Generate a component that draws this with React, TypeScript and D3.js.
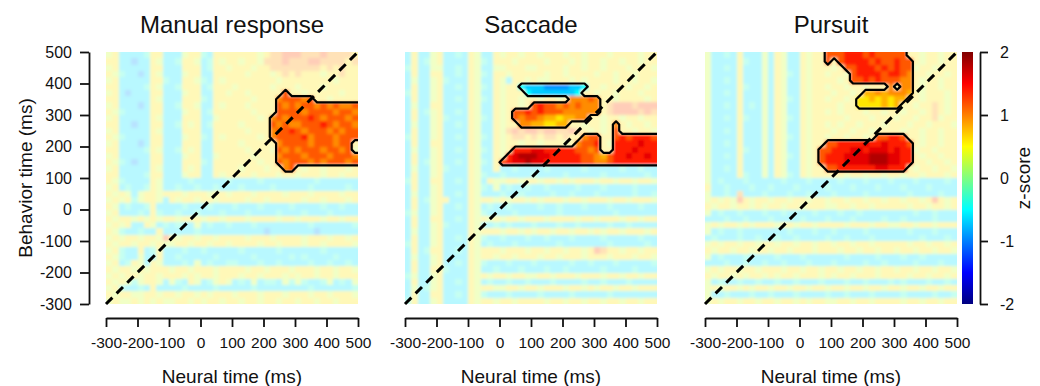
import { useEffect, useRef } from "react";
import * as d3 from "d3";

// axis ticks (ms) and colour bar ticks (z)
const timeTicks = [-300, -200, -100, 0, 100, 200, 300, 400, 500];
const zTicks = [-2, -1, 0, 1, 2];
const panelTitles = ["Manual response", "Saccade", "Pursuit"];

// 20 ms bins, 40 x 40 per panel. rows go from behaviour time 500 (top) down to -300,
// columns from neural time -300 to 500. Each row is written as four groups of ten bins.
// lowercase = not significant (drawn faded), digits / capitals = inside a significant cluster
const bgLevels: Record<string, number> = { a: -0.9, b: -0.6, c: -0.3, d: 0, e: 0.3, f: 0.6, g: 0.9, h: 1.2 };
const sigLevels: Record<string, number> = {
  "3": 0.6, "4": 0.8, "5": 0.95, "6": 1.15, "7": 1.4, "8": 1.6, "9": 1.8,
  P: -0.5, Q: -0.7, R: -0.9,
};

const manualRows = [
  "efbbbbcffb bbeffcbfff ffffefgghh hggghggggf",
  "ffbbabbfeb bcffebcfef feffeggghg gghhggggfg",
  "efbbbbbffb bbfffbcffe fffeffgggg ggggfgfgff",
  "fecbbabfeb bbeffbbfff ffefffefgf gfffeffgff",
  "efbbbbbffc bbffecbfef fffffffeff ffffffefff",
  "ffbbbbcfeb bcfffbcfff efffffefff efffefffff",
  "efbabbbffb bbeffbbffe ffefffff6f fefffffeff",
  "ffbbbbbfeb bbfffcbfff fffefff566 656ffeffff",
  "efbbbabffb bcffebbfef ffeffff656 5665656556",
  "fecbbbbffb bbeffbcfff fffefff666 6566665665",
  "efbbbbbfeb bbfffbbeff ffffef5656 6676566656",
  "ffbbabbffb bcfefbcfff feffff6565 5666765665",
  "efbbbbbfeb bbfffbbfff ffefff5667 6566656566",
  "fecbbbbffb bbeffcbfef ffffef5666 6756665666",
  "efbbbabffb bbfffbbfff fefffff566 665666566f",
  "ffbbbbcfeb bcfefbbfff ffefffe656 566656656e",
  "efbbbbbffb bbeffbbeff fffefff566 6566656665",
  "fecbabbffb bbfffcbfff ffffeff656 6656566656",
  "efbbbbbfeb bbfefbbfff fefffeff56 feffefffef",
  "ffbbbbcffb bbeffbbfef fffefffeff efffeffeff",
  "fecbbbbfeb bbbcbbbbbc bbbbcbbbbb bbbcbbbbbb",
  "efbcbbcfeb bcbbcbbcbb bcbbbbcbbb bbcbbbbbcb",
  "fefebeffef ffefffeffe fffeffffef ffeffffeff",
  "efefceffeb feffeffeff ffeffeffff feffefffef",
  "febcbbcfbb bbcbbbcbbb cbbbcbbbbc bbbbcbbcbb",
  "efbbbcbfcb bcbbcbbbcb bbcbbbbcbb bcbbbcbbbb",
  "feffefefef fefffeffef ffeffffeff efffeffeff",
  "efefbbfebc bcbbebcbbc bbbcbbbbbb bbcbbbbbbc",
  "fecbbcbbfb bbbbcbbbbb bbbbbabbbb bbbabbbbbb",
  "efeffeffeh feffeffeff ffefffefff fefffeffef",
  "feffeffefe effeffeffe ffffeffeff feffeffffe",
  "efcbbfbcfb bbcbbcbbbb bcbbbbbcbb bbbbcbbbbb",
  "fecbbebbfb bcbbbbbcbb bbbcbbbbbc bcbbbbcbbb",
  "efbcfebfeb bbcbebcbbc cbbbcbbcbb bbcbbcbbcb",
  "feffefefff effefffeff ffeffefffe fffeffeffe",
  "efeffeffef ffefeffeff feffefffef effeffefff",
  "fefeceffeb ecbfebcefe bcbebccbec ecbbcebcbe",
  "efcbbcbfbb bbcbbbbcbb bbbcbbbbbb bbcbbbbbbc",
  "feffeeffef feffefefff efffefffef ffeffefffe",
  "efeefefefe effefeffef feffeffeff effeffefff",
];

const saccadeRows = [
  "bfbbefbbcb febbfeffef fefffeffef ffeffffeff",
  "bfbcefbbbb fecbfffeff ffefffefef feffeffeff",
  "cfbbeebbcb febbeefffe effffeffef fefffefffe",
  "bfbbffbbcb fecbffefff ffeffeffff effeffefff",
  "bebbefcbbb febbfebffe feefffefef fffeffeffe",
  "bfbbefbbcb fecbfeffPQ QQRRRRQQPf fefffeffef",
  "cfbbefbbbb febbfefffP QQQQQQQPff effefffeff",
  "bfbbefbbcb fecbfeffef feffef5556 5ffeffffef",
  "bebbffbbbb febbfeffef 6766565655 5fghhhghhh",
  "bfbcefbbcb febbfef667 6766655555 5fghhhhghg",
  "bfbbefcbbb fecbfef656 654434455f feffeffeff",
  "bebbefbbcb febbfeff55 443344ffef fef5feffef",
  "bfbbefbbbb febbfeghgh hghhgghgfe fef6ffeffe",
  "cfbbefbbcb fecbfefggf gfggfgff56 6ff6767776",
  "bfbbffbbbb febbfeffef fefffef566 7fe7777877",
  "bebbefbbcb fecbfef777 8877777665 6ff7778777",
  "bfbbefbbbb febbfe7899 9887777766 5467787787",
  "bfbcefbbcb fecbf67889 8877777766 5567777777",
  "bebbefcbbb febbfbbcbb bbcbbbbbcb bbbbcbbcbb",
  "bfbbefbbbb fecbbcbbbb cbbbbcbbbb bcbbbbbbcb",
  "cfbbffbbcb febfeeffef feffefefff effeffeffe",
  "bfbbefbbbb fecbebcbbc bbcbbbbcbb bcbbbbcbbb",
  "bebbefbbcb febbbcbbcb bbbcbbcbbb cbbbbbcbbc",
  "bfbceffbbb feffefeffe fefffeffef ffeffefffe",
  "bfbbefbbcb febcbbcbbb bcbbcbbbcb bbcbbbbcbb",
  "cebbefbbbb fecbbbbcbb bbbbcbbbbb bbbcbbbbbb",
  "bfbbffbbcb fefefeffef ffeffffeff efffeffeff",
  "bfbbefcbbb febbcbcbbb cbbbcbbcbb bbcbbcbbbb",
  "bebbefbbbb fefffeffef effeffeffe feffefffef",
  "bfbbefbbcb fecbbcbbbc bbcbbbcbbb bcbbbbbcbb",
  "cfbbefbbbb febcbbbcbb bbbbcbbbbb bbcbbbbbcb",
  "bfbcffbbcb fefffefffe ffeffeffef hgffeffeff",
  "bebbefbbbb feffeffeff feffefffef ffefffeffe",
  "bfbbefbbcb fecbbbcbbb cbbbbbcbbc bbbcbbbbbc",
  "bfbbffcbbb febbcbbbcb bbcbbcbbbb bcbbbbcbbb",
  "cebbefbbbb fefeffeffe effefffeff feffeffeff",
  "bfbbefbbcb febcbbcbbc bbbcbbbbcb bcbbbcbbbb",
  "bebcefbbbb feffeeffef fefffeffef effeffefff",
  "bfbbffbbcb fecbbbcbbb bcbbbbcbbb bbcbbbbbbb",
  "cfbbefbbbb feffeffeff ffeffeffef feffeffeff",
];

const pursuitRows = [
  "ebbcbfbbbe bfebbfeff6 6677767666 66ffeffeff",
  "ebbbbfcbbe bfebbfeff6 f677776766 766feffeff",
  "ebbcbfbbbe bfebbfefff ef66777676 766effefff",
  "ebbbbfbbbe bfecbfeffe ffe6777767 765ffeffef",
  "ebbcbfbbbe bfebbfefff fef6676766 655feffeff",
  "ebbbbfcbbe bfebbfeffe ffeffefff5 f55feffeff",
  "ebbcbfbbbe bfebbfefff effef44545 554fefffef",
  "ebbbbfbbbe bfecbfeffe ffef334343 44ffefffef",
  "ebbcbfbcbe bfebbfefff feff333343 4ffeffgfef",
  "ebbbbfbbbe bfebbfeffe fefffeffef feffefgfef",
  "ebbcbfcbbe bfecbfefff ffefffefff effeffgeff",
  "ebbbbfbbbe bfebbfeffe feffefffef ffeffefffe",
  "ebbcbfbbbe bfebbfefff effeffefff feffeffeff",
  "ebbbbfbbbe bfecbfeffe ffeffef667 76ffeffeff",
  "ebbcbfbbbe bfebbfeff6 6777787787 776feffeff",
  "ebbbbfcbbe bfebbfef66 7778878887 877effefff",
  "ebbcbfbbbe bfecbfef67 7788889998 877feffeff",
  "ebbbbfbbbe bfebbfef67 7788889998 877ffeffef",
  "ebbcbfbbbe bfebbfeff6 6777777887 77feffeffe",
  "ebbbbfcbbe bfecbfefff ffeffeffef feffefffef",
  "ebcbbbcbbb bbcbbbcbbb bcbbbcbbbc bbbcbbbbcb",
  "fbbcbbbcbb cbbbcbbbbc bbbcbbbcbb bcbbbcbbbb",
  "ebbcbgbbbc bbbcbbcbbb cbbbbcbbbb bbcbbbbcbb",
  "efefehfeff effeffeffe ffeffeffef feffefhfef",
  "feffeffefe ffeffefffe effeffefff ffeffeffef",
  "ebcbbcbbbc bbcbbbbcbb bcbbcbbbbb bbbcbbcbbb",
  "bbbcbbcbbb cbbbbcbbbc bbbcbbbbcb bcbbbbcbbb",
  "efeffefeff feffeffeff ffefffeffe effeffefff",
  "ebcbbcbbbb bbbcbbbcbb cbbbbcbbbb bbcbbbcbbb",
  "bcbbbcbbcb bcbbcbbbbc bbcbbbcbbb bbbbcbbbcb",
  "efeffeffef feffeffeff effeffefff ffeffeffef",
  "feffeffeff effefffeff feffeffeff effeffeffe",
  "ebcbbbcbbb bcbbbcbbbb bbcbbbbcbb bcbbcbbbbb",
  "bbbcbbcbbc bbcbbbcbbb cbbbbcbbcb bbbcbbbcbb",
  "efeffeffef ffeffeffef feffeffeff effeffeffe",
  "feffefeffe feffefffef effefffeff ffeffeffef",
  "ebcbbcbbcb bcbbcbbbcb bbcbbcbbbc bcbbbcbbcb",
  "efeffefeff effeffeffe ffeffeffef feffeffeff",
  "ebbcbbbcbb cbbbcbbbbc bbcbbbcbbb bcbbbbcbbc",
  "efeffeffef feffefeffe effeffefff feffeffeff",
];

const panelRows = [manualRows, saccadeRows, pursuitRows];

const FONT = "'Liberation Sans', Arial, Helvetica, sans-serif";
const plain = (d: d3.NumberValue) => String(d); // hyphen minus, like the original

export default function App() {
  const svgRef = useRef<SVGSVGElement>(null);

  useEffect(() => {
    if (!svgRef.current) return;
    const svg = d3.select(svgRef.current);
    svg.selectAll("*").remove();

    const top = 52;
    const size = 252;
    const lefts = [106, 405, 705];
    const nBins = 40;
    const binStarts = d3.range(nBins).map((i) => timeTicks[0] + i * 20);

    const jet = d3
      .scaleLinear<string>()
      .domain([-2, -1.5, -0.5, 0.5, 1.5, 2])
      .range(["#00007f", "#0000ff", "#00ffff", "#ffff00", "#ff0000", "#7f0000"])
      .clamp(true);
    const fade = (c: string) => d3.interpolateRgb("#ffffff", c)(0.28);
    const isSig = (ch: string) => ch in sigLevels;

    const y = d3.scaleLinear().domain([-300, 500]).range([top + size, top]);
    const defs = svg.append("defs");

    // soft blur for the heat map, alpha pushed back to opaque so the borders keep their colour
    const filt = defs
      .append("filter")
      .attr("id", "soften")
      .attr("x", "-5%")
      .attr("y", "-5%")
      .attr("width", "110%")
      .attr("height", "110%");
    filt.append("feGaussianBlur").attr("stdDeviation", 1.7);
    filt
      .append("feComponentTransfer")
      .append("feFuncA")
      .attr("type", "linear")
      .attr("slope", 40);

    panelRows.forEach((rawRows, p) => {
      const left = lefts[p];
      const x = d3.scaleLinear().domain([-300, 500]).range([left, left + size]);
      const cw = x(-280) - x(-300);
      const rows = rawRows.map((r) => r.replace(/ /g, ""));

      const cells: { i: number; j: number; ch: string }[] = [];
      rows.forEach((r, j) => {
        for (let i = 0; i < nBins; i++) cells.push({ i, j, ch: r[i] || "f" });
      });

      const clipId = `clip-${p}`;
      defs
        .append("clipPath")
        .attr("id", clipId)
        .append("rect")
        .attr("x", left)
        .attr("y", top)
        .attr("width", size)
        .attr("height", size);

      const g = svg.append("g");
      g.append("g")
        .attr("clip-path", `url(#${clipId})`)
        .append("g")
        .attr("filter", "url(#soften)")
        .selectAll("rect")
        .data(cells)
        .enter()
        .append("rect")
        .attr("x", (d) => x(binStarts[d.i]))
        .attr("y", (d) => y(500 - d.j * 20))
        .attr("width", cw + 0.5)
        .attr("height", cw + 0.5)
        .attr("shape-rendering", "crispEdges")
        .attr("fill", (d) =>
          isSig(d.ch) ? jet(sigLevels[d.ch]) : fade(jet(bgLevels[d.ch] ?? 0.6))
        );

      // cluster outlines, mask padded by one bin so edges at the border stay open
      const m = nBins + 2;
      const mask: number[] = new Array(m * m);
      for (let gy = 0; gy < m; gy++) {
        for (let gx = 0; gx < m; gx++) {
          const j = Math.min(nBins - 1, Math.max(0, gy - 1));
          const i = Math.min(nBins - 1, Math.max(0, gx - 1));
          mask[gy * m + gx] = isSig(rows[j][i]) ? 1 : 0;
        }
      }
      const contours = d3.contours().size([m, m]).thresholds([0.5]).smooth(true)(mask);
      const proj = d3.geoTransform({
        point(px: number, py: number) {
          (this as any).stream.point(left + (px - 1) * cw, top + (py - 1) * cw);
        },
      });
      g.append("g")
        .attr("clip-path", `url(#${clipId})`)
        .selectAll("path")
        .data(contours)
        .enter()
        .append("path")
        .attr("d", d3.geoPath(proj) as any)
        .attr("fill", "none")
        .attr("stroke", "#000")
        .attr("stroke-width", 2.2)
        .attr("stroke-linejoin", "round");

      // diagonal
      g.append("line")
        .attr("x1", x(-300))
        .attr("y1", y(-300))
        .attr("x2", x(500))
        .attr("y2", y(500))
        .attr("stroke", "#000")
        .attr("stroke-width", 3)
        .attr("stroke-dasharray", "9,6");

      // x axis
      const ax = g
        .append("g")
        .attr("transform", `translate(0,318)`)
        .call(d3.axisBottom(x).tickValues(timeTicks).tickSize(9).tickSizeOuter(0).tickPadding(10).tickFormat(plain));
      ax.attr("font-family", FONT).attr("font-size", 15.5);
      ax.selectAll("text").attr("fill", "#111");
      ax.selectAll("line, path").attr("stroke", "#111").attr("stroke-width", 1.8);

      g.append("text")
        .attr("x", left + size / 2)
        .attr("y", 376)
        .attr("dy", "0.35em")
        .attr("text-anchor", "middle")
        .attr("font-family", FONT)
        .attr("font-size", 19)
        .attr("fill", "#111")
        .text("Neural time (ms)");

      g.append("text")
        .attr("x", left + size / 2)
        .attr("y", 25)
        .attr("dy", "0.35em")
        .attr("text-anchor", "middle")
        .attr("font-family", FONT)
        .attr("font-size", 24)
        .attr("fill", "#111")
        .text(panelTitles[p]);
    });

    // y axis on first panel
    const ay = svg
      .append("g")
      .attr("transform", "translate(89,0)")
      .call(d3.axisLeft(y).tickValues(timeTicks).tickSize(9).tickSizeOuter(0).tickPadding(8).tickFormat(plain));
    ay.attr("font-family", FONT).attr("font-size", 16);
    ay.selectAll("text").attr("fill", "#111");
    ay.selectAll("line, path").attr("stroke", "#111").attr("stroke-width", 1.8);

    svg
      .append("text")
      .attr("transform", `translate(25,${top + size / 2}) rotate(-90)`)
      .attr("dy", "0.35em")
      .attr("text-anchor", "middle")
      .attr("font-family", FONT)
      .attr("font-size", 19)
      .attr("fill", "#111")
      .text("Behavior time (ms)");

    // colour bar
    const zScale = d3.scaleLinear().domain([-2, 2]).range([top + size, top]);
    const grad = defs
      .append("linearGradient")
      .attr("id", "jetGrad")
      .attr("x1", 0)
      .attr("y1", 1)
      .attr("x2", 0)
      .attr("y2", 0);
    jet.domain().forEach((v) => {
      grad
        .append("stop")
        .attr("offset", (v + 2) / 4)
        .attr("stop-color", jet(v));
    });
    svg
      .append("rect")
      .attr("x", 962)
      .attr("y", top)
      .attr("width", 11)
      .attr("height", size)
      .attr("fill", "url(#jetGrad)");

    const az = svg
      .append("g")
      .attr("transform", "translate(980,0)")
      .call(d3.axisRight(zScale).tickValues(zTicks).tickSize(8).tickSizeOuter(0).tickPadding(12).tickFormat(plain));
    az.attr("font-family", FONT).attr("font-size", 16);
    az.selectAll("text").attr("fill", "#111");
    az.selectAll("line, path").attr("stroke", "#111").attr("stroke-width", 1.8);

    svg
      .append("text")
      .attr("transform", `translate(1023,${top + size / 2}) rotate(-90)`)
      .attr("dy", "0.35em")
      .attr("text-anchor", "middle")
      .attr("font-family", FONT)
      .attr("font-size", 19)
      .attr("fill", "#111")
      .text("z-score");
  }, []);

  return (
    <svg
      ref={svgRef}
      width={1040}
      height={386}
      style={{ position: "absolute", left: 0, top: 0, background: "#fff" }}
    />
  );
}
